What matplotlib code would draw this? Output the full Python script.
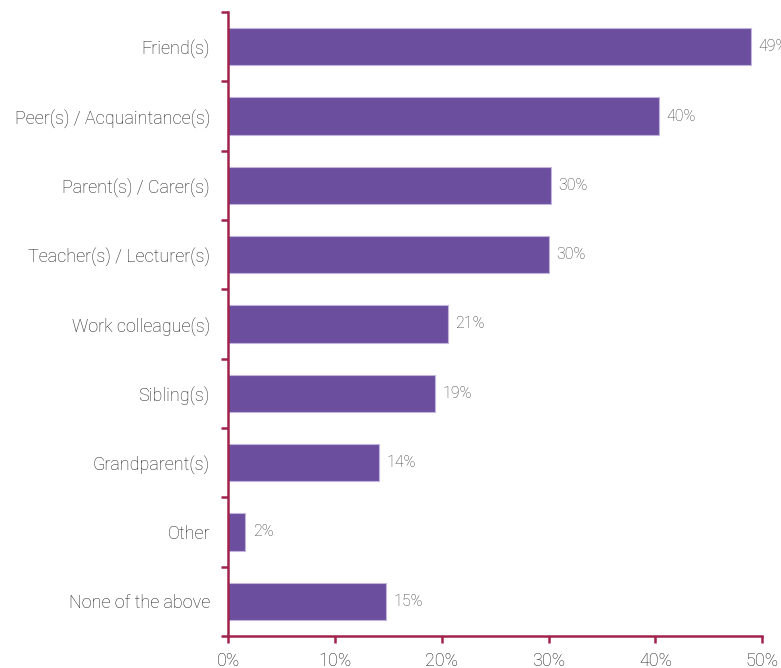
import matplotlib
matplotlib.use("Agg")
import matplotlib.pyplot as plt

plt.rcParams["font.family"] = ["Roboto", "DejaVu Sans"]

categories = [
    "Friend(s)",
    "Peer(s) / Acquaintance(s)",
    "Parent(s) / Carer(s)",
    "Teacher(s) / Lecturer(s)",
    "Work colleague(s)",
    "Sibling(s)",
    "Grandparent(s)",
    "Other",
    "None of the above",
]
shares = [48.9, 40.3, 30.2, 30.0, 20.6, 19.4, 14.1, 1.6, 14.8]
x_ticks = [0, 10, 20, 30, 40, 50]

bar_color = "#6b4f9e"
axis_color = "#a1224b"
text_color = "#1f1f1f"

fig = plt.figure(figsize=(7.81, 6.68), dpi=100)
ax = fig.add_axes([0.292, 0.048, 0.684, 0.934])

pos = list(range(len(categories)))
ax.barh(pos, shares, height=0.54, color=bar_color, edgecolor="#c2b4dc", linewidth=0.8)

for y, v in zip(pos, shares):
    ax.text(v + 0.7, y, f"{v:.0f}%", va="center", ha="left",
            fontsize=11.5, color="#404040", fontweight="light")

ax.set_xlim(0, 50)
ax.set_ylim(len(categories) - 0.5, -0.5)

# boundary ticks on the y axis, labels sit in the middle of each band
ax.set_yticks([p - 0.5 for p in range(len(categories) + 1)])
ax.set_yticklabels([])
ax.set_yticks(pos, minor=True)
ax.set_yticklabels(categories, minor=True)
ax.tick_params(axis="y", which="major", direction="out", length=5, width=1.8, color=axis_color)
ax.tick_params(axis="y", which="minor", length=0, pad=13, labelsize=13, labelcolor=text_color)

ax.set_xticks(x_ticks)
ax.set_xticklabels([f"{t}%" for t in x_ticks])
ax.tick_params(axis="x", direction="out", length=5, width=1.8, color=axis_color,
               pad=6.5, labelsize=13, labelcolor=text_color)

for s in ["top", "right"]:
    ax.spines[s].set_visible(False)
for s in ["left", "bottom"]:
    ax.spines[s].set_color(axis_color)
    ax.spines[s].set_linewidth(1.8)

for lab in ax.get_xticklabels() + ax.get_yticklabels(minor=True):
    lab.set_fontweight("light")

fig.savefig("out.png", dpi=100)
